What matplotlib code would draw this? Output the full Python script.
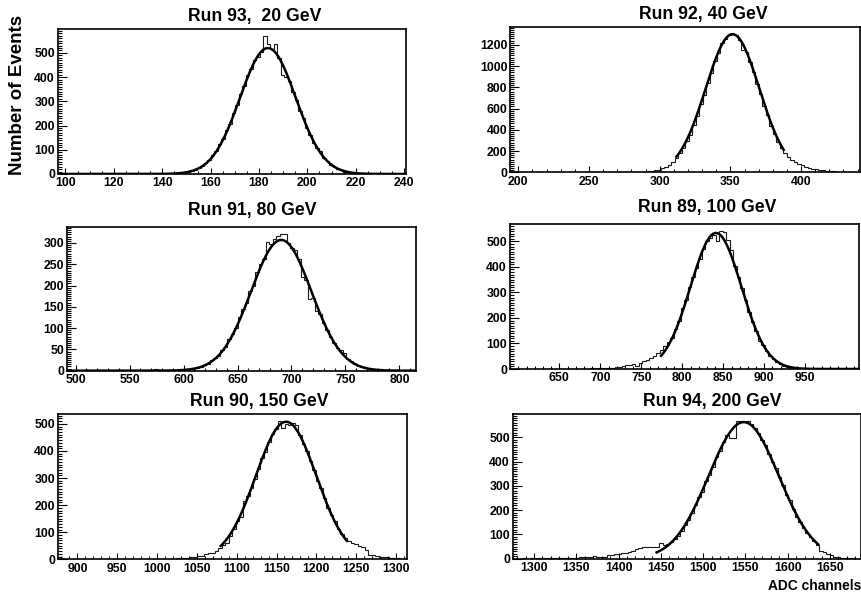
import numpy as np
import matplotlib
matplotlib.use('Agg')
import matplotlib.pyplot as plt
from matplotlib.ticker import FixedLocator, AutoMinorLocator

plt.rcParams['font.family'] = ['Liberation Sans', 'DejaVu Sans']
plt.rcParams['font.weight'] = 'bold'

# ---------------- data ----------------
titles = ["Run 93,  20 GeV", "Run 92, 40 GeV", "Run 91, 80 GeV",
          "Run 89, 100 GeV", "Run 90, 150 GeV", "Run 94, 200 GeV"]

# histogram: lower edge of first listed bin, bin width, counts
h1_start, h1_width = 144.32, 1.44
h1_counts = [1, 2, 3, 5, 8, 12, 17, 25, 32, 46,
             56, 77, 94, 122, 144, 180, 208, 251, 283, 332,
             362, 410, 432, 470, 482, 505, 570,
             535, 515, 535, 478, 410, 402, 383, 338, 306, 260,
             230, 188, 162, 126, 108, 96, 64, 52, 36, 30,
             20, 16, 10, 8, 4, 3, 2, 1]

h2_start, h2_width = 271.095, 2.474
h2_counts = [1, 1, 2, 3, 3, 4, 5, 7, 9, 12,
             17, 24, 36, 50, 70, 98, 130, 178, 230, 292,
             352, 445, 528, 640, 725, 845, 935, 1050, 1120, 1215,
             1250, 1296,
             1305, 1290, 1245, 1150, 1130, 1040, 945, 835, 735, 625,
             535, 440, 362, 285, 232, 180, 140, 115, 95, 80,
             65, 52, 42, 34, 28, 22, 17, 13, 10, 8,
             6, 4, 3, 2, 2, 1]

h3_start, h3_width = 569.41, 3.237
h3_counts = [1, 3, 1, 0, 1, 2, 2, 1, 2, 1,
             3, 4, 6, 7, 9, 14, 16, 24, 30, 35,
             48, 55, 74, 86, 100, 125, 145, 160, 188, 200,
             232, 250, 262, 302, 298, 310, 317,
             322, 322, 300, 287, 283, 262, 220, 212, 168, 170,
             140, 132, 112, 95, 80, 66, 54, 48, 42, 28,
             22, 15, 11, 8, 6, 5, 3, 2, 2, 1, 1]

h4_start, h4_width = 649.04, 4.265
h4_counts = [1, 0, 1, 1, 0, 1, 1, 1, 1, 2,
             2, 2, 3, 3, 4, 5, 6, 7, 10, 14,
             17, 20, 12, 25, 30, 36, 44, 50, 62, 75,
             90, 105, 120, 155, 190, 240, 270, 320, 360, 395,
             430, 470, 500, 515, 525,
             502, 540, 538, 505, 465, 405, 362, 318, 270, 225,
             185, 150, 110, 95, 70, 52, 40, 28, 20, 13,
             9, 6, 4, 3, 2, 1, 1]

h5_start, h5_width = 949.77, 4.38
h5_counts = [1, 0, 1, 1, 0, 1, 1, 0, 1, 1,
             1, 1, 2, 1, 2, 2, 2, 3, 3, 6,
             5, 7, 9, 12, 14, 18, 22, 25, 30, 40,
             52, 62, 85, 112, 140, 158, 215, 232, 265, 295,
             335, 375, 398, 432, 462, 482, 510, 485,
             500, 495, 505, 495, 460, 425, 400, 362, 330, 290,
             262, 225, 190, 165, 140, 112, 92, 78, 68, 60,
             55, 48, 45, 35, 16, 15, 14, 9, 8, 8,
             4, 3, 3, 2, 1]

h6_start, h6_width = 1274.92, 4.12
h6_counts = [0, 0, 0, 1, 0, 1, 1, 1, 2, 1,
             2, 2, 3, 2, 4, 3, 3, 4, 4, 6,
             5, 6, 9, 10, 7, 8, 9, 14, 17, 18,
             20, 22, 24, 28, 33, 38, 45, 47, 48, 49,
             47, 50, 66, 55, 60, 68,
             80, 95, 115, 140, 160, 190, 222, 255, 275, 320,
             345, 380, 420, 445, 483, 511, 497, 497, 566, 566,
             563, 568, 555, 540, 520, 490, 470, 430, 400, 375,
             335, 305, 262, 240, 205, 172, 150, 128, 105, 90,
             72, 58, 32, 28, 18, 14, 8, 5, 4, 3, 2, 1]

hist_starts = [h1_start, h2_start, h3_start, h4_start, h5_start, h6_start]
hist_widths = [h1_width, h2_width, h3_width, h4_width, h5_width, h6_width]
hist_counts = [h1_counts, h2_counts, h3_counts, h4_counts, h5_counts, h6_counts]

# Gaussian fit parameters (amplitude, mean, sigma) and fit ranges
fit_amp = [520, 1300, 307, 533, 508, 563]
fit_mean = [183.7, 351.5, 690.5, 841.0, 1162.0, 1548.0]
fit_sigma = [11.5, 19.0, 28.0, 31.0, 38.0, 41.5]
fit_lo = [96.8, 311.8, 491.7, 774.0, 1080.0, 1445.0]
fit_hi = [240.8, 387.7, 815.4, 1015.9, 1238.0, 1636.0]

x_limits = [(96.8, 240.8), (194.3, 441.7), (491.7, 815.4),
            (589.4, 1015.9), (875.3, 1313.4), (1274.8, 1686.7)]
x_ticks = [[100, 120, 140, 160, 180, 200, 220, 240],
           [200, 250, 300, 350, 400],
           [500, 550, 600, 650, 700, 750, 800],
           [650, 700, 750, 800, 850, 900, 950],
           [900, 950, 1000, 1050, 1100, 1150, 1200, 1250, 1300],
           [1300, 1350, 1400, 1450, 1500, 1550, 1600, 1650]]
y_ticks = [[0, 100, 200, 300, 400, 500],
           [0, 200, 400, 600, 800, 1000, 1200],
           [0, 50, 100, 150, 200, 250, 300],
           [0, 100, 200, 300, 400, 500],
           [0, 100, 200, 300, 400, 500],
           [0, 100, 200, 300, 400, 500]]

# ---------------- layout ----------------
W, H = 862, 596
fig = plt.figure(figsize=(W / 100, H / 100), dpi=100)

frames = [(57.7, 29.0, 406.0, 174.0), (510.3, 26.7, 860.0, 172.3),
          (66.7, 226.7, 416.0, 370.7), (509.7, 224.3, 859.3, 369.0),
          (57.7, 414.3, 406.7, 559.3), (512.7, 414.0, 861.0, 558.7)]
title_pos = [(255, 16.7), (703.5, 15.0), (252, 210.0),
             (706.7, 208.0), (259, 401.7), (712.7, 401.7)]
x_minor = [4, 5, 5, 5, 5, 5]

for i in range(6):
    l, t, r, b = frames[i]
    ax = fig.add_axes([l / W, 1 - b / H, (r - l) / W, (b - t) / H])
    counts = np.array(hist_counts[i], dtype=float)
    edges = hist_starts[i] + hist_widths[i] * np.arange(len(counts) + 1)
    ax.stairs(counts, edges, color='#1a1a1a', lw=0.8)
    xf = np.linspace(fit_lo[i], fit_hi[i], 500)
    yf = fit_amp[i] * np.exp(-0.5 * ((xf - fit_mean[i]) / fit_sigma[i]) ** 2)
    ax.plot(xf, yf, color='black', lw=1.8)

    ax.set_xlim(*x_limits[i])
    ax.set_ylim(0, 1.05 * counts.max())
    ax.xaxis.set_major_locator(FixedLocator(x_ticks[i]))
    ax.yaxis.set_major_locator(FixedLocator(y_ticks[i]))
    ax.xaxis.set_minor_locator(AutoMinorLocator(x_minor[i]))
    ax.yaxis.set_minor_locator(AutoMinorLocator(10))
    ax.tick_params(axis='both', which='both', direction='in', top=False, right=False,
                   width=0.8, color='black')
    ax.tick_params(axis='x', which='major', length=4.0, pad=2.5, labelsize=8.8)
    ax.tick_params(axis='x', which='minor', length=2.0)
    ax.tick_params(axis='y', which='major', length=6.5, pad=2.0, labelsize=8.8)
    ax.tick_params(axis='y', which='minor', length=3.2)
    for lab in ax.get_xticklabels() + ax.get_yticklabels():
        lab.set_fontweight('bold')
    for sp in ax.spines.values():
        sp.set_linewidth(1.2)
        sp.set_color('black')

    tx, ty = title_pos[i]
    fig.text(tx / W, 1 - ty / H, titles[i], ha='center', va='center',
             fontsize=12.7, fontweight='bold')

fig.text(18.0 / W, 1 - 95 / H, "Number of Events", rotation=90,
         ha='center', va='center', fontsize=13.5, fontweight='bold')
fig.text(861 / W, 1 - 585.5 / H, "ADC channels", ha='right', va='center',
         fontsize=9.9, fontweight='bold')

fig.savefig('out.png', dpi=100)
